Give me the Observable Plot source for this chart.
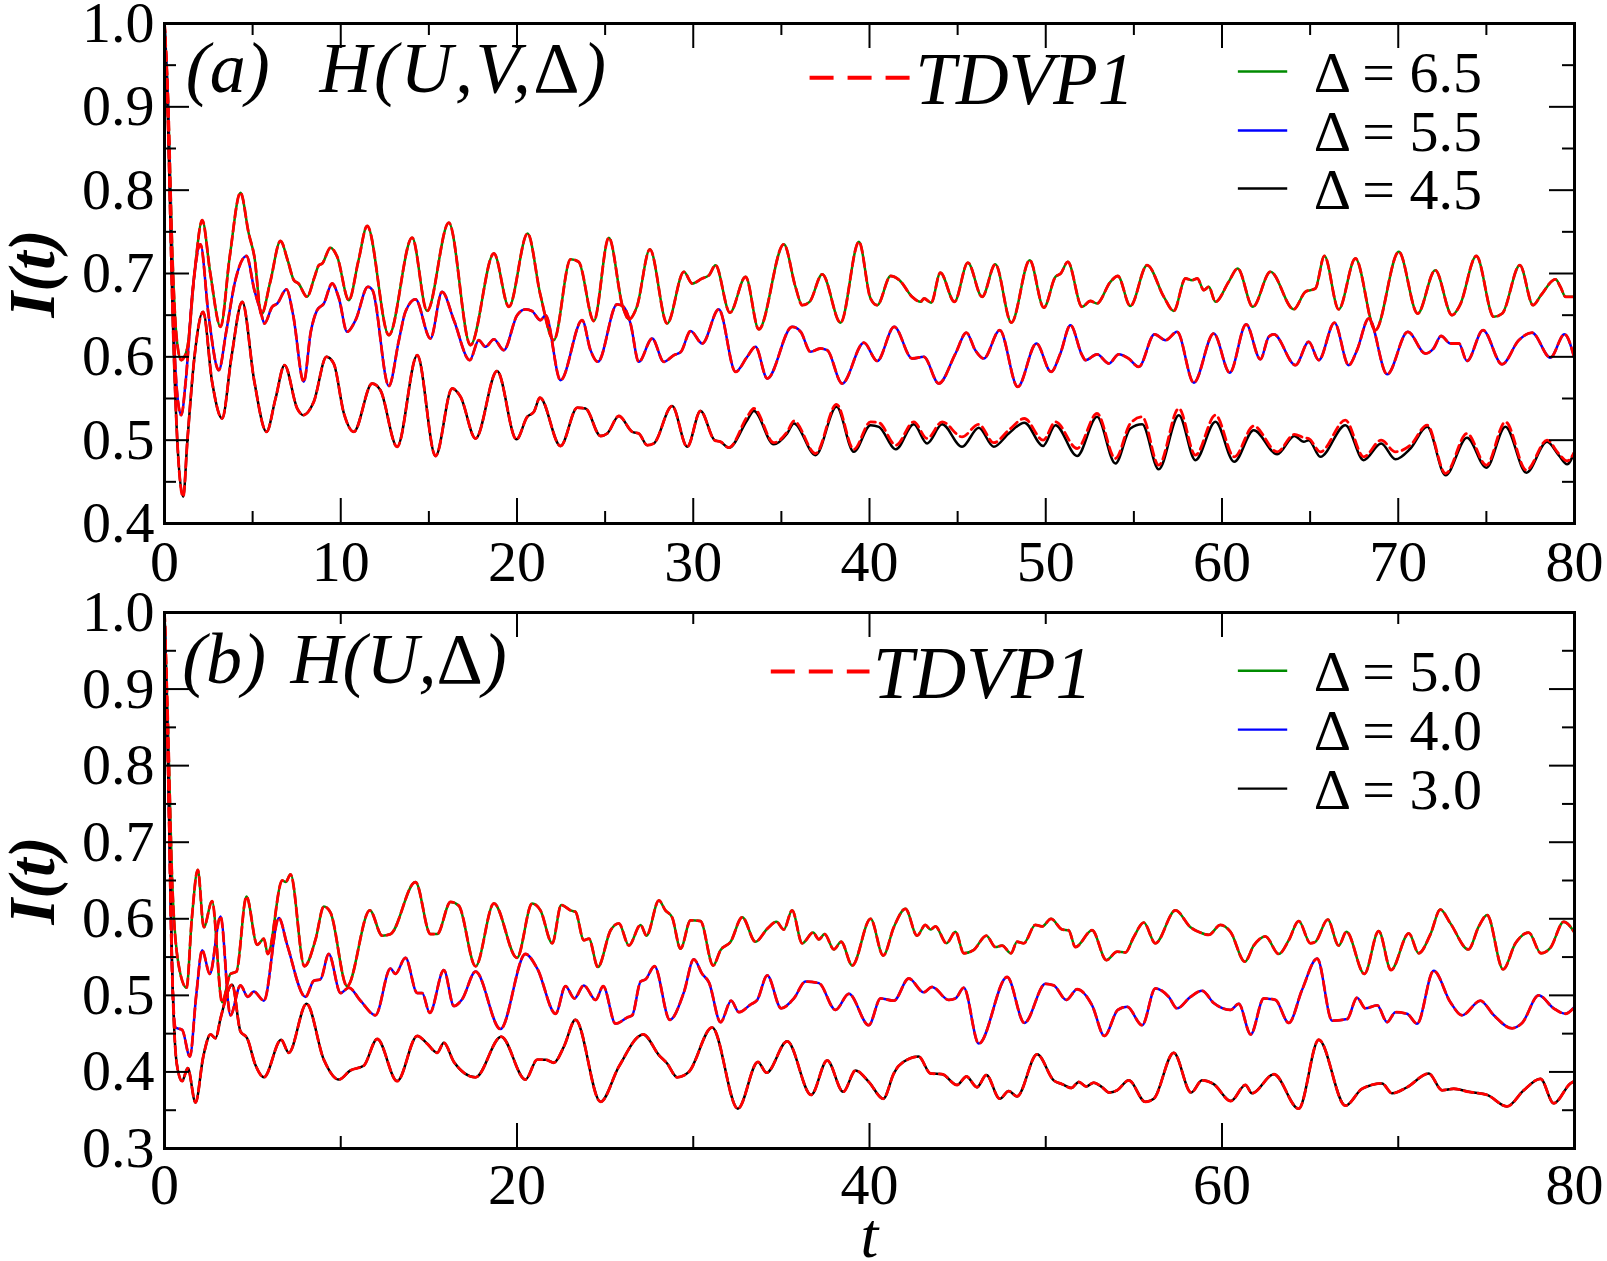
<!DOCTYPE html>
<html>
<head>
<meta charset="utf-8">
<script src="https://cdn.jsdelivr.net/npm/d3@7"></script>
<script src="https://cdn.jsdelivr.net/npm/@observablehq/plot@0.6"></script>
<style>
  html, body { margin: 0; padding: 0; background: #fff; overflow: hidden; }
  #fig { position: relative; width: 1607px; height: 1261px; }
  #fig svg { display: block; }
</style>
</head>
<body>
<div id="fig"></div>
<script>
// ---- Panel (a): H(U,V,Δ), fidelity I(t) for three Δ values ----
const a65 = [[0,1.0],[0.2,0.91],[0.45,0.72],[0.7,0.62],[0.95,0.596],[1.29,0.61],[1.7,0.7],[2.14,0.764],[2.6,0.7],[3.18,0.636],[3.7,0.72],[4.31,0.797],[4.78,0.748],[5.1,0.72],[5.5,0.651],[6.0,0.69],[6.58,0.739],[7.0,0.715],[7.34,0.692],[7.6,0.688],[8.09,0.672],[8.5,0.695],[8.76,0.71],[8.95,0.712],[9.42,0.731],[9.8,0.72],[10.46,0.668],[11.0,0.715],[11.5,0.757],[12.73,0.626],[14.05,0.743],[14.9,0.655],[16.13,0.761],[17.36,0.614],[18.69,0.724],[19.54,0.66],[20.6,0.748],[21.33,0.674],[22.09,0.62],[23.04,0.717],[23.5,0.714],[24.36,0.643],[25.21,0.743],[26.0,0.66],[26.35,0.645],[26.8,0.66],[27.54,0.729],[28.52,0.64],[29.47,0.702],[29.94,0.688],[30.5,0.694],[30.9,0.698],[31.26,0.71],[32.08,0.653],[32.97,0.696],[33.72,0.633],[35.14,0.735],[35.8,0.684],[36.18,0.662],[36.6,0.666],[37.32,0.699],[38.36,0.641],[39.4,0.738],[40.06,0.67],[40.44,0.662],[41.2,0.697],[41.7,0.692],[42.42,0.672],[42.89,0.666],[43.1,0.67],[43.5,0.665],[44.02,0.701],[44.82,0.666],[45.58,0.713],[46.39,0.672],[47.14,0.711],[48.05,0.641],[49.09,0.716],[49.89,0.659],[50.55,0.696],[50.85,0.7],[51.25,0.714],[52.06,0.66],[52.53,0.667],[52.9,0.664],[53.67,0.69],[54.09,0.697],[54.8,0.661],[55.75,0.71],[56.7,0.672],[57.26,0.655],[57.93,0.694],[58.3,0.692],[58.6,0.694],[58.97,0.68],[59.25,0.684],[59.63,0.666],[60.38,0.69],[60.89,0.706],[61.75,0.66],[62.75,0.702],[64.07,0.657],[64.73,0.678],[65.3,0.682],[65.81,0.721],[66.62,0.657],[67.57,0.718],[68.7,0.632],[70.03,0.726],[71.1,0.652],[72.1,0.704],[73.05,0.65],[73.5,0.662],[74.43,0.721],[75.42,0.648],[75.9,0.652],[76.9,0.71],[77.65,0.662],[78.1,0.674],[78.92,0.693],[79.2,0.684],[79.5,0.672],[80,0.672]];

const a55 = [[0,1.0],[0.2,0.9],[0.45,0.68],[0.7,0.56],[0.95,0.53],[1.2,0.57],[1.6,0.68],[2.04,0.735],[2.5,0.65],[3.08,0.584],[3.5,0.63],[4.0,0.69],[4.65,0.721],[5.1,0.68],[5.45,0.655],[5.67,0.64],[6.11,0.66],[6.4,0.664],[6.92,0.681],[7.3,0.65],[7.9,0.57],[8.3,0.63],[8.66,0.656],[9.04,0.664],[9.51,0.688],[9.9,0.67],[10.36,0.63],[10.84,0.644],[11.54,0.684],[11.8,0.68],[12.73,0.565],[13.3,0.62],[13.67,0.654],[14.24,0.669],[15.09,0.622],[15.75,0.678],[16.42,0.644],[17.32,0.596],[17.83,0.62],[18.21,0.612],[18.69,0.621],[19.25,0.608],[20.01,0.65],[20.5,0.657],[20.85,0.655],[21.33,0.644],[21.62,0.65],[22.47,0.572],[23.7,0.644],[24.17,0.608],[24.59,0.594],[25.68,0.663],[26.05,0.66],[26.44,0.64],[26.91,0.594],[27.67,0.622],[28.33,0.594],[28.9,0.602],[29.3,0.606],[29.85,0.631],[30.51,0.616],[31.45,0.657],[32.4,0.582],[33.06,0.6],[33.53,0.612],[34.2,0.574],[35.61,0.636],[36.1,0.63],[36.65,0.606],[37.2,0.61],[37.6,0.608],[38.45,0.568],[39.68,0.617],[40.44,0.595],[41.4,0.636],[42.42,0.598],[43.08,0.6],[43.93,0.568],[44.88,0.604],[45.5,0.629],[46.0,0.608],[46.48,0.598],[47.39,0.632],[48.41,0.564],[49.47,0.616],[50.3,0.582],[50.83,0.604],[51.4,0.638],[52.06,0.602],[52.25,0.596],[52.91,0.603],[53.58,0.592],[54.14,0.603],[54.7,0.598],[55.28,0.588],[56.17,0.627],[56.8,0.62],[57.45,0.63],[58.4,0.569],[59.53,0.628],[60.44,0.581],[61.37,0.639],[62.18,0.597],[62.65,0.624],[62.94,0.627],[64.17,0.59],[64.92,0.618],[65.49,0.596],[66.38,0.641],[67.19,0.59],[67.66,0.608],[68.33,0.646],[69.37,0.579],[70.54,0.63],[71.54,0.604],[72.0,0.61],[72.43,0.625],[72.96,0.616],[73.44,0.616],[73.9,0.595],[74.81,0.632],[75.89,0.591],[76.84,0.62],[77.59,0.629],[78.63,0.599],[79.43,0.627],[80,0.598]];

const a45 = [[0,1.0],[0.2,0.88],[0.45,0.66],[0.75,0.49],[1.06,0.432],[1.3,0.5],[1.7,0.6],[2.19,0.654],[2.7,0.57],[3.27,0.526],[3.8,0.6],[4.41,0.666],[5.1,0.57],[5.79,0.51],[6.3,0.55],[6.81,0.59],[7.53,0.538],[7.87,0.53],[8.47,0.546],[9.19,0.6],[9.6,0.592],[10.18,0.532],[10.74,0.51],[11.78,0.568],[12.25,0.56],[13.2,0.492],[14.34,0.602],[15.38,0.481],[16.32,0.562],[16.8,0.552],[17.65,0.502],[18.87,0.583],[19.97,0.501],[20.58,0.528],[20.96,0.534],[21.3,0.551],[22.47,0.493],[23.42,0.539],[23.89,0.538],[24.74,0.505],[25.12,0.508],[25.78,0.529],[26.54,0.51],[26.91,0.508],[27.39,0.494],[27.76,0.496],[28.8,0.541],[29.66,0.492],[30.41,0.535],[31.21,0.5],[31.55,0.498],[32.02,0.491],[33.06,0.524],[33.44,0.535],[34.57,0.495],[35.33,0.508],[35.71,0.52],[36.94,0.482],[38.13,0.54],[39.11,0.486],[40.06,0.518],[40.53,0.516],[41.5,0.489],[42.51,0.519],[43.27,0.496],[44.12,0.519],[45.25,0.492],[46.2,0.515],[47.05,0.492],[47.9,0.508],[48.79,0.521],[49.85,0.493],[50.55,0.518],[51.78,0.481],[52.91,0.528],[53.95,0.472],[54.8,0.514],[55.47,0.519],[56.41,0.465],[57.55,0.53],[58.49,0.476],[59.63,0.522],[60.69,0.474],[61.8,0.512],[63.13,0.483],[64.11,0.505],[64.64,0.498],[64.92,0.5],[65.58,0.48],[67.0,0.518],[68.04,0.476],[69.03,0.496],[69.84,0.477],[70.69,0.49],[71.64,0.516],[72.68,0.458],[73.9,0.503],[75.0,0.467],[76.08,0.516],[77.27,0.461],[78.44,0.498],[79.1,0.482],[79.58,0.471],[80,0.486]];

// TDVP1 result for Δ = 4.5 drifts slightly above the reference curve at late times
const a45TdvpLate = [[33.06,0.528],[33.44,0.538],[34.57,0.497],[35.33,0.51],[35.71,0.523],[36.94,0.484],[38.13,0.543],[39.11,0.489],[40.06,0.522],[40.53,0.521],[41.5,0.494],[42.51,0.522],[43.27,0.502],[44.12,0.522],[45.25,0.504],[46.2,0.519],[47.05,0.497],[47.9,0.512],[48.79,0.526],[49.85,0.5],[50.55,0.522],[51.78,0.49],[52.91,0.532],[53.95,0.478],[54.8,0.52],[55.47,0.528],[56.41,0.47],[57.55,0.538],[58.49,0.482],[59.63,0.53],[60.69,0.48],[61.8,0.517],[63.13,0.486],[64.11,0.507],[64.64,0.503],[64.92,0.502],[65.58,0.486],[67.0,0.524],[68.04,0.48],[69.03,0.5],[69.84,0.486],[70.69,0.494],[71.64,0.518],[72.68,0.46],[73.9,0.508],[75.0,0.47],[76.08,0.522],[77.27,0.464],[78.44,0.5],[79.1,0.484],[79.58,0.475],[80,0.486]];

// ---- Panel (b): H(U,Δ) ----
const b50 = [[0,1.0],[0.2,0.85],[0.43,0.652],[0.8,0.54],[1.25,0.51],[1.55,0.6],[1.89,0.664],[2.23,0.589],[2.7,0.623],[3.27,0.491],[3.74,0.528],[4.08,0.531],[4.65,0.629],[5.26,0.566],[5.64,0.574],[5.86,0.554],[6.68,0.65],[6.88,0.648],[7.15,0.658],[7.94,0.538],[8.57,0.573],[9.04,0.616],[9.42,0.608],[10.36,0.512],[11.65,0.611],[12.35,0.578],[12.82,0.58],[14.24,0.648],[15.09,0.58],[15.47,0.58],[16.23,0.622],[16.7,0.617],[17.65,0.538],[18.69,0.62],[20.0,0.549],[20.86,0.62],[21.33,0.611],[22.0,0.568],[22.51,0.618],[23.04,0.611],[23.32,0.609],[23.79,0.572],[24.08,0.574],[24.59,0.537],[25.31,0.585],[25.78,0.594],[26.35,0.565],[27.01,0.592],[27.35,0.578],[28.05,0.624],[28.42,0.611],[28.8,0.602],[29.28,0.561],[29.85,0.598],[30.41,0.597],[31.13,0.539],[31.55,0.559],[32.12,0.57],[32.78,0.602],[33.53,0.57],[34.2,0.587],[34.72,0.596],[35.14,0.586],[35.61,0.611],[36.18,0.568],[36.8,0.582],[37.13,0.573],[37.45,0.58],[37.98,0.56],[38.39,0.57],[39.02,0.539],[40.06,0.6],[40.78,0.552],[41.38,0.589],[42.04,0.613],[42.7,0.578],[43.17,0.592],[43.46,0.586],[43.74,0.59],[44.37,0.568],[44.88,0.583],[45.35,0.555],[45.9,0.559],[46.63,0.578],[47.15,0.563],[47.52,0.565],[48.03,0.555],[48.37,0.57],[48.75,0.568],[49.41,0.592],[49.79,0.59],[50.3,0.6],[50.93,0.586],[51.3,0.585],[51.68,0.563],[52.63,0.585],[53.44,0.546],[54.05,0.557],[54.52,0.556],[54.99,0.576],[55.56,0.595],[56.22,0.568],[57.36,0.611],[58.21,0.589],[58.77,0.582],[59.25,0.579],[59.91,0.592],[60.48,0.583],[61.3,0.544],[61.8,0.565],[62.46,0.577],[63.22,0.554],[63.79,0.572],[64.35,0.597],[65.02,0.568],[65.3,0.57],[66.0,0.599],[66.62,0.565],[67.06,0.583],[68.08,0.528],[68.89,0.584],[69.59,0.533],[70.6,0.581],[71.16,0.555],[71.83,0.58],[72.39,0.612],[72.96,0.594],[73.98,0.56],[74.57,0.59],[75.04,0.605],[75.95,0.534],[76.65,0.568],[77.4,0.582],[78.1,0.555],[78.63,0.562],[79.39,0.596],[80,0.582]];

const b40 = [[0,1.0],[0.2,0.82],[0.4,0.56],[0.62,0.458],[1.0,0.455],[1.44,0.42],[1.8,0.5],[2.14,0.559],[2.57,0.528],[3.18,0.603],[3.74,0.474],[4.31,0.513],[4.73,0.498],[5.07,0.505],[5.64,0.493],[6.49,0.601],[6.96,0.566],[8.0,0.498],[8.47,0.519],[8.85,0.521],[9.32,0.554],[9.99,0.503],[10.46,0.51],[11.12,0.493],[11.97,0.474],[12.82,0.535],[13.1,0.528],[13.67,0.549],[14.34,0.503],[14.62,0.503],[15.05,0.477],[15.85,0.533],[16.42,0.486],[16.89,0.495],[17.65,0.531],[19.06,0.456],[20.48,0.554],[21.15,0.535],[22.19,0.476],[22.75,0.512],[23.26,0.496],[23.79,0.513],[24.46,0.494],[24.89,0.512],[25.59,0.463],[26.25,0.471],[26.54,0.474],[27.01,0.518],[27.3,0.521],[27.8,0.538],[28.67,0.468],[29.47,0.504],[30.03,0.547],[30.51,0.528],[30.89,0.517],[31.55,0.465],[32.15,0.493],[32.59,0.478],[33.25,0.488],[33.63,0.494],[34.2,0.526],[34.99,0.483],[35.71,0.496],[36.37,0.518],[37.13,0.516],[38.07,0.481],[38.83,0.502],[39.96,0.461],[40.63,0.496],[41.38,0.493],[42.23,0.522],[43.08,0.504],[43.55,0.511],[44.5,0.494],[44.88,0.496],[45.35,0.51],[46.2,0.437],[47.81,0.524],[48.79,0.464],[49.98,0.515],[50.45,0.513],[51.17,0.494],[51.78,0.508],[52.63,0.487],[53.33,0.447],[54.09,0.481],[54.62,0.485],[55.47,0.461],[56.22,0.509],[56.98,0.498],[57.45,0.483],[58.21,0.498],[58.87,0.506],[59.53,0.49],[60.48,0.481],[60.95,0.489],[61.63,0.449],[62.37,0.496],[63.03,0.494],[63.79,0.464],[64.54,0.507],[65.4,0.548],[66.25,0.467],[67.1,0.469],[67.66,0.497],[68.14,0.483],[68.8,0.487],[69.37,0.465],[69.84,0.478],[70.5,0.476],[71.07,0.463],[72.01,0.532],[72.96,0.491],[73.62,0.474],[74.66,0.493],[75.42,0.474],[76.46,0.457],[77.03,0.464],[77.97,0.5],[78.82,0.483],[79.48,0.476],[80,0.485]];

const b30 = [[0,1.0],[0.2,0.8],[0.45,0.52],[0.7,0.41],[1.0,0.388],[1.32,0.405],[1.76,0.36],[2.2,0.42],[2.61,0.449],[2.9,0.444],[3.18,0.47],[3.84,0.514],[4.31,0.453],[4.69,0.444],[5.16,0.409],[5.64,0.393],[6.62,0.442],[7.05,0.425],[8.06,0.489],[9.04,0.416],[9.89,0.39],[10.55,0.402],[11.3,0.408],[12.07,0.443],[13.2,0.388],[14.34,0.447],[14.9,0.437],[15.47,0.425],[15.85,0.438],[16.42,0.413],[17.65,0.393],[19.1,0.446],[20.48,0.39],[21.15,0.416],[21.62,0.416],[22.09,0.412],[22.66,0.433],[23.32,0.468],[24.74,0.361],[25.78,0.407],[27.16,0.449],[28.05,0.422],[28.52,0.411],[29.09,0.393],[29.75,0.4],[31.07,0.458],[32.53,0.352],[33.67,0.413],[34.16,0.399],[35.33,0.44],[36.69,0.37],[37.6,0.415],[38.51,0.374],[39.21,0.402],[39.96,0.387],[40.78,0.365],[41.38,0.398],[41.66,0.408],[42.79,0.42],[43.46,0.398],[44.12,0.397],[44.97,0.383],[45.5,0.394],[46.1,0.38],[46.63,0.396],[47.39,0.365],[47.9,0.375],[48.37,0.368],[49.51,0.423],[50.45,0.389],[50.93,0.384],[51.45,0.379],[51.87,0.387],[52.3,0.381],[52.72,0.386],[53.2,0.38],[53.6,0.373],[54.05,0.376],[54.71,0.389],[55.65,0.361],[56.13,0.365],[57.26,0.425],[58.25,0.373],[58.87,0.389],[59.53,0.384],[60.5,0.362],[61.33,0.383],[61.7,0.372],[62.94,0.397],[64.35,0.352],[65.49,0.442],[67.0,0.356],[67.95,0.378],[69.08,0.385],[69.65,0.372],[70.5,0.38],[71.73,0.398],[72.49,0.376],[73.15,0.378],[74.0,0.374],[75.04,0.37],[76.17,0.355],[77.12,0.376],[78.07,0.391],[78.82,0.359],[79.77,0.385],[80,0.388]];

// ---- Tick values and labels ----
const aXMajor = [0, 10, 20, 30, 40, 50, 60, 70, 80];
const aXMinor = [5, 15, 25, 35, 45, 55, 65, 75];
const aYMajor = [0.4, 0.5, 0.6, 0.7, 0.8, 0.9, 1.0];
const aYMinor = [0.45, 0.55, 0.65, 0.75, 0.85, 0.95];
const bXMajor = [0, 20, 40, 60, 80];
const bXMinor = [10, 30, 50, 70];
const bYMajor = [0.3, 0.4, 0.5, 0.6, 0.7, 0.8, 0.9, 1.0];
const bYMinor = [0.35, 0.45, 0.55, 0.65, 0.75, 0.85, 0.95];

const aLegendLabels = ["Δ = 6.5", "Δ = 5.5", "Δ = 4.5"];
const bLegendLabels = ["Δ = 5.0", "Δ = 4.0", "Δ = 3.0"];
const methodLabel = "TDVP1";

// ---- Styling ----
const GREEN = "#008b00", BLUE = "#0000ff", BLACK = "#000000", RED = "#ff0000";
const W = 1607, ML = 164, MR = 33;
const FONT = "'Liberation Serif', 'Times New Roman', serif";
const SVGNS = "http://www.w3.org/2000/svg";

// Set the Greek Δ upright inside an otherwise italic title
function uprightDelta(svg, title, spacing) {
  for (const el of svg.querySelectorAll("text")) {
    if (el.textContent !== title) continue;
    el.textContent = "";
    title.split("Δ").forEach((part, i) => {
      if (i > 0) {
        const d = document.createElementNS(SVGNS, "tspan");
        d.setAttribute("font-style", "normal");
        d.textContent = "Δ";
        el.appendChild(d);
      }
      const p = document.createElementNS(SVGNS, "tspan");
      p.textContent = part;
      el.appendChild(p);
    });
    if (spacing) el.setAttribute("letter-spacing", spacing);
  }
}

function panel(cfg) {
  const plotH = cfg.height - cfg.marginTop - cfg.marginBottom;
  const plotW = W - ML - MR;
  const MAJ = 25, MIN = 12;
  const colors = [GREEN, BLUE, BLACK];
  const xy = {x: d => d[0], y: d => d[1]};
  const marks = [];

  // reference curves
  cfg.series.forEach((s, i) => {
    marks.push(Plot.line(s, {...xy, stroke: colors[i], strokeWidth: 2.5, curve: "monotone-x"}));
  });
  // TDVP1 curves on top, dashed red
  cfg.tdvp.forEach(s => {
    marks.push(Plot.line(s, {...xy, stroke: RED, strokeWidth: 2.8, strokeDasharray: "9,5", curve: "monotone-x"}));
  });

  // inward ticks on all four sides
  const tk = {strokeWidth: 2};
  marks.push(
    Plot.tickX(cfg.xMajor, {x: d => d, insetTop: plotH - MAJ, ...tk}),
    Plot.tickX(cfg.xMajor, {x: d => d, insetBottom: plotH - MAJ, ...tk}),
    Plot.tickX(cfg.xMinor, {x: d => d, insetTop: plotH - MIN, ...tk}),
    Plot.tickX(cfg.xMinor, {x: d => d, insetBottom: plotH - MIN, ...tk}),
    Plot.tickY(cfg.yMajor, {y: d => d, insetRight: plotW - MAJ, ...tk}),
    Plot.tickY(cfg.yMajor, {y: d => d, insetLeft: plotW - MAJ, ...tk}),
    Plot.tickY(cfg.yMinor, {y: d => d, insetRight: plotW - MIN, ...tk}),
    Plot.tickY(cfg.yMinor, {y: d => d, insetLeft: plotW - MIN, ...tk})
  );

  // tick labels
  marks.push(
    Plot.axisX({ticks: cfg.xMajor, tickSize: 0, tickPadding: cfg.xPad, tickFormat: d => String(d), label: null, fontSize: 58}),
    Plot.axisY({ticks: cfg.yMajor, tickSize: 0, tickPadding: 10, tickFormat: d => d.toFixed(1), label: null, fontSize: 58})
  );

  // axis titles
  marks.push(Plot.text(["I(t)"], {frameAnchor: "left", dx: -132, rotate: -90, text: d => d,
    fontSize: 66, fontWeight: "bold", fontStyle: "italic", textAnchor: "middle"}));
  if (cfg.xTitle) {
    marks.push(Plot.text([cfg.xTitle], {frameAnchor: "bottom", dy: 108, text: d => d,
      fontSize: 64, fontStyle: "italic", textAnchor: "middle"}));
  }

  // panel tag and Hamiltonian
  const L = cfg.layout;
  marks.push(
    Plot.text([cfg.tag], {x: L.tagX, y: L.titleY, text: d => d, textAnchor: "start", fontSize: 72, fontStyle: "italic"}),
    Plot.text([cfg.title], {x: L.titleX, y: L.titleY, text: d => d, textAnchor: "start", fontSize: 72, fontStyle: "italic"})
  );

  // method legend (red dashed sample)
  marks.push(
    Plot.link([0], {x1: L.methodX1, x2: L.methodX2, y1: L.methodY, y2: L.methodY, stroke: RED, strokeWidth: 4, strokeDasharray: "24,14"}),
    Plot.text([methodLabel], {x: L.methodTextX, y: L.methodY, dy: 3, text: d => d, textAnchor: "start", fontSize: 73, fontStyle: "italic"})
  );

  // series legend
  const rows = cfg.legend.map((label, i) => ({label, color: colors[i], y: L.rowY[i]}));
  marks.push(
    Plot.link(rows, {x1: L.legX1, x2: L.legX2, y1: "y", y2: "y", stroke: "color", strokeWidth: 2.4}),
    Plot.text(rows, {x: L.legTextX, y: "y", dy: 2, text: "label", textAnchor: "start", fontSize: 58, letterSpacing: 1})
  );

  marks.push(Plot.frame({strokeWidth: 3}));

  const svg = Plot.plot({
    width: W, height: cfg.height,
    marginLeft: ML, marginRight: MR, marginTop: cfg.marginTop, marginBottom: cfg.marginBottom,
    x: {domain: [0, 80]},
    y: {domain: cfg.yDomain},
    style: `font-family: ${FONT}; font-size: 58px; color: #000; background: #fff; overflow: visible;`,
    marks
  });
  uprightDelta(svg, cfg.title, cfg.titleSpacing);
  return svg;
}

const fig = document.getElementById("fig");

fig.appendChild(panel({
  height: 590, marginTop: 23, marginBottom: 67, yDomain: [0.4, 1.0], xPad: 16,
  series: [a65, a55, a45],
  tdvp: [a65, a55, [...a45.filter(d => d[0] < 33), ...a45TdvpLate]],
  xMajor: aXMajor, xMinor: aXMinor, yMajor: aYMajor, yMinor: aYMinor,
  tag: "(a)", title: "H(U,V,Δ)", titleSpacing: "2.5", legend: aLegendLabels,
  layout: {tagX: 1.2, titleX: 8.8, titleY: 0.946,
           methodX1: 36.6, methodX2: 42.3, methodY: 0.935, methodTextX: 42.6,
           legX1: 60.9, legX2: 63.7, legTextX: 65.2, rowY: [0.9424, 0.8716, 0.802]}
}));

fig.appendChild(panel({
  height: 671, marginTop: 22, marginBottom: 113, yDomain: [0.3, 1.0], xPad: 14,
  series: [b50, b40, b30],
  tdvp: [b50, b40, b30],
  xMajor: bXMajor, xMinor: bXMinor, yMajor: bYMajor, yMinor: bYMinor,
  tag: "(b)", title: "H(U,Δ)", legend: bLegendLabels, xTitle: "t",
  layout: {tagX: 1.0, titleX: 7.15, titleY: 0.938,
           methodX1: 34.4, methodX2: 40.0, methodY: 0.923, methodTextX: 40.2,
           legX1: 60.9, legX2: 63.7, legTextX: 65.2, rowY: [0.924, 0.847, 0.770]}
}));
</script>
</body>
</html>
